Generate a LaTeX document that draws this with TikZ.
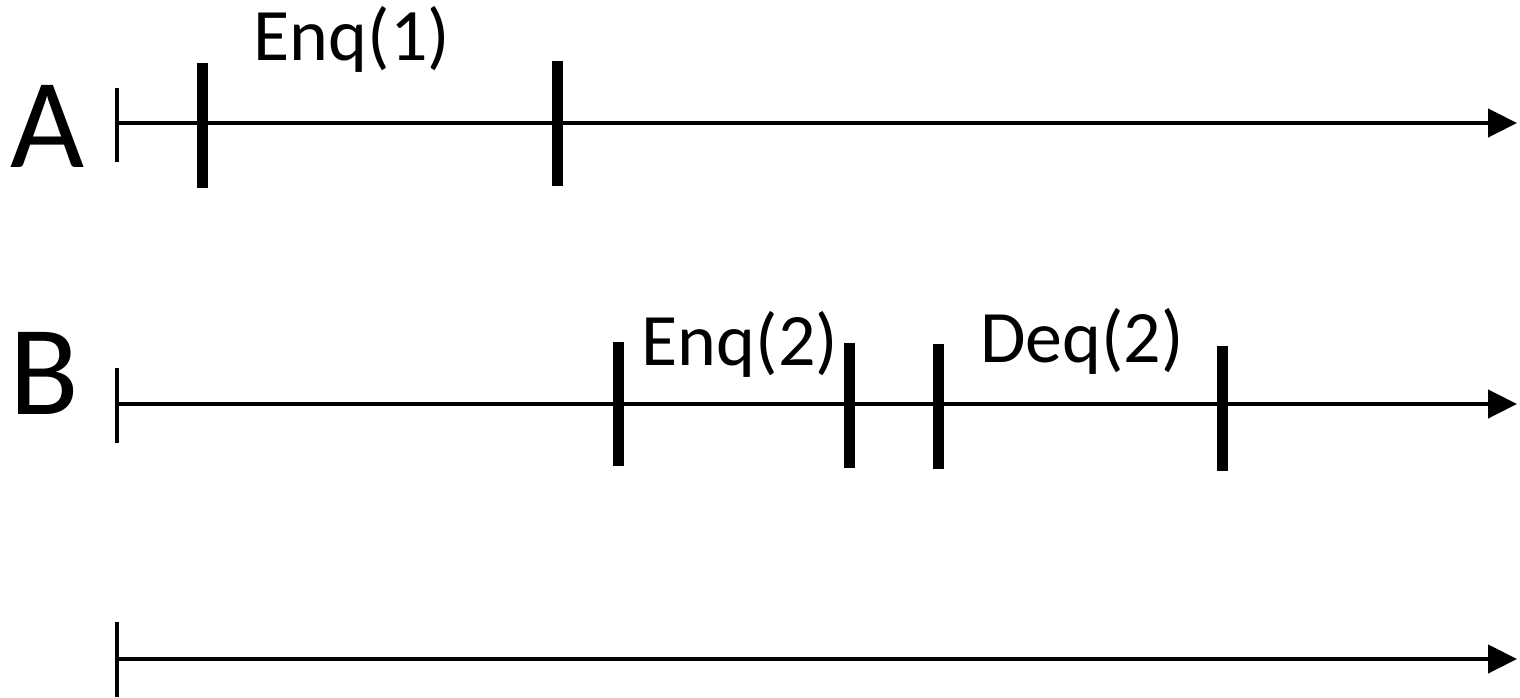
\documentclass[tikz,border=0pt]{standalone}
\usepackage{fontspec}
\setmainfont{Carlito}
\usetikzlibrary{arrows.meta,positioning}
\tikzset{timeline/.style={line width=4.5pt,-{Triangle[length=29pt,width=28pt]}}}
\tikzset{startTick/.style={line width=4.5pt}}
\tikzset{opTick/.style={line width=11pt}}
\tikzset{procName/.style={inner sep=0pt,font=\fontsize{128}{128}\selectfont}}
\tikzset{opName/.style={inner sep=0pt,anchor=base,font=\fontsize{74}{74}\selectfont}}

\begin{document}
\begin{tikzpicture}[x=1pt,y=-1pt]
\useasboundingbox (0,0) rectangle (1520,698);

% thread A
\node (procA) [procName] at (47.5,126.5) {A};
\coordinate (aStart) at (117,123);
\coordinate (aEnd) at (1517,123);
\draw [timeline] (aStart) -- (aEnd);
\draw [startTick] (117,88) -- (117,162);
\draw [opTick] (202,63) -- (202,188);
\draw [opTick] (557,61) -- (557,186);
\node (enqA) [opName] at (352,61) {Enq(1)};

% thread B
\node (procB) [procName] at (44.5,373) {B};
\coordinate (bStart) at (117,404);
\coordinate (bEnd) at (1517,404);
\draw [timeline] (bStart) -- (bEnd);
\draw [startTick] (117,368) -- (117,443);
\draw [opTick] (618,342) -- (618,466);
\draw [opTick] (849,343) -- (849,468);
\draw [opTick] (938,344) -- (938,469);
\draw [opTick] (1222,346) -- (1222,471);
\node (enqB) [opName] at (740,365) {Enq(2)};
\node (deqB) [opName] at (1082,362) {Deq(2)};

% third thread, nothing on it
\coordinate (cStart) at (117,659);
\coordinate (cEnd) at (1517,659);
\draw [timeline] (cStart) -- (cEnd);
\draw [startTick] (117,622) -- (117,697);
\end{tikzpicture}
\end{document}
